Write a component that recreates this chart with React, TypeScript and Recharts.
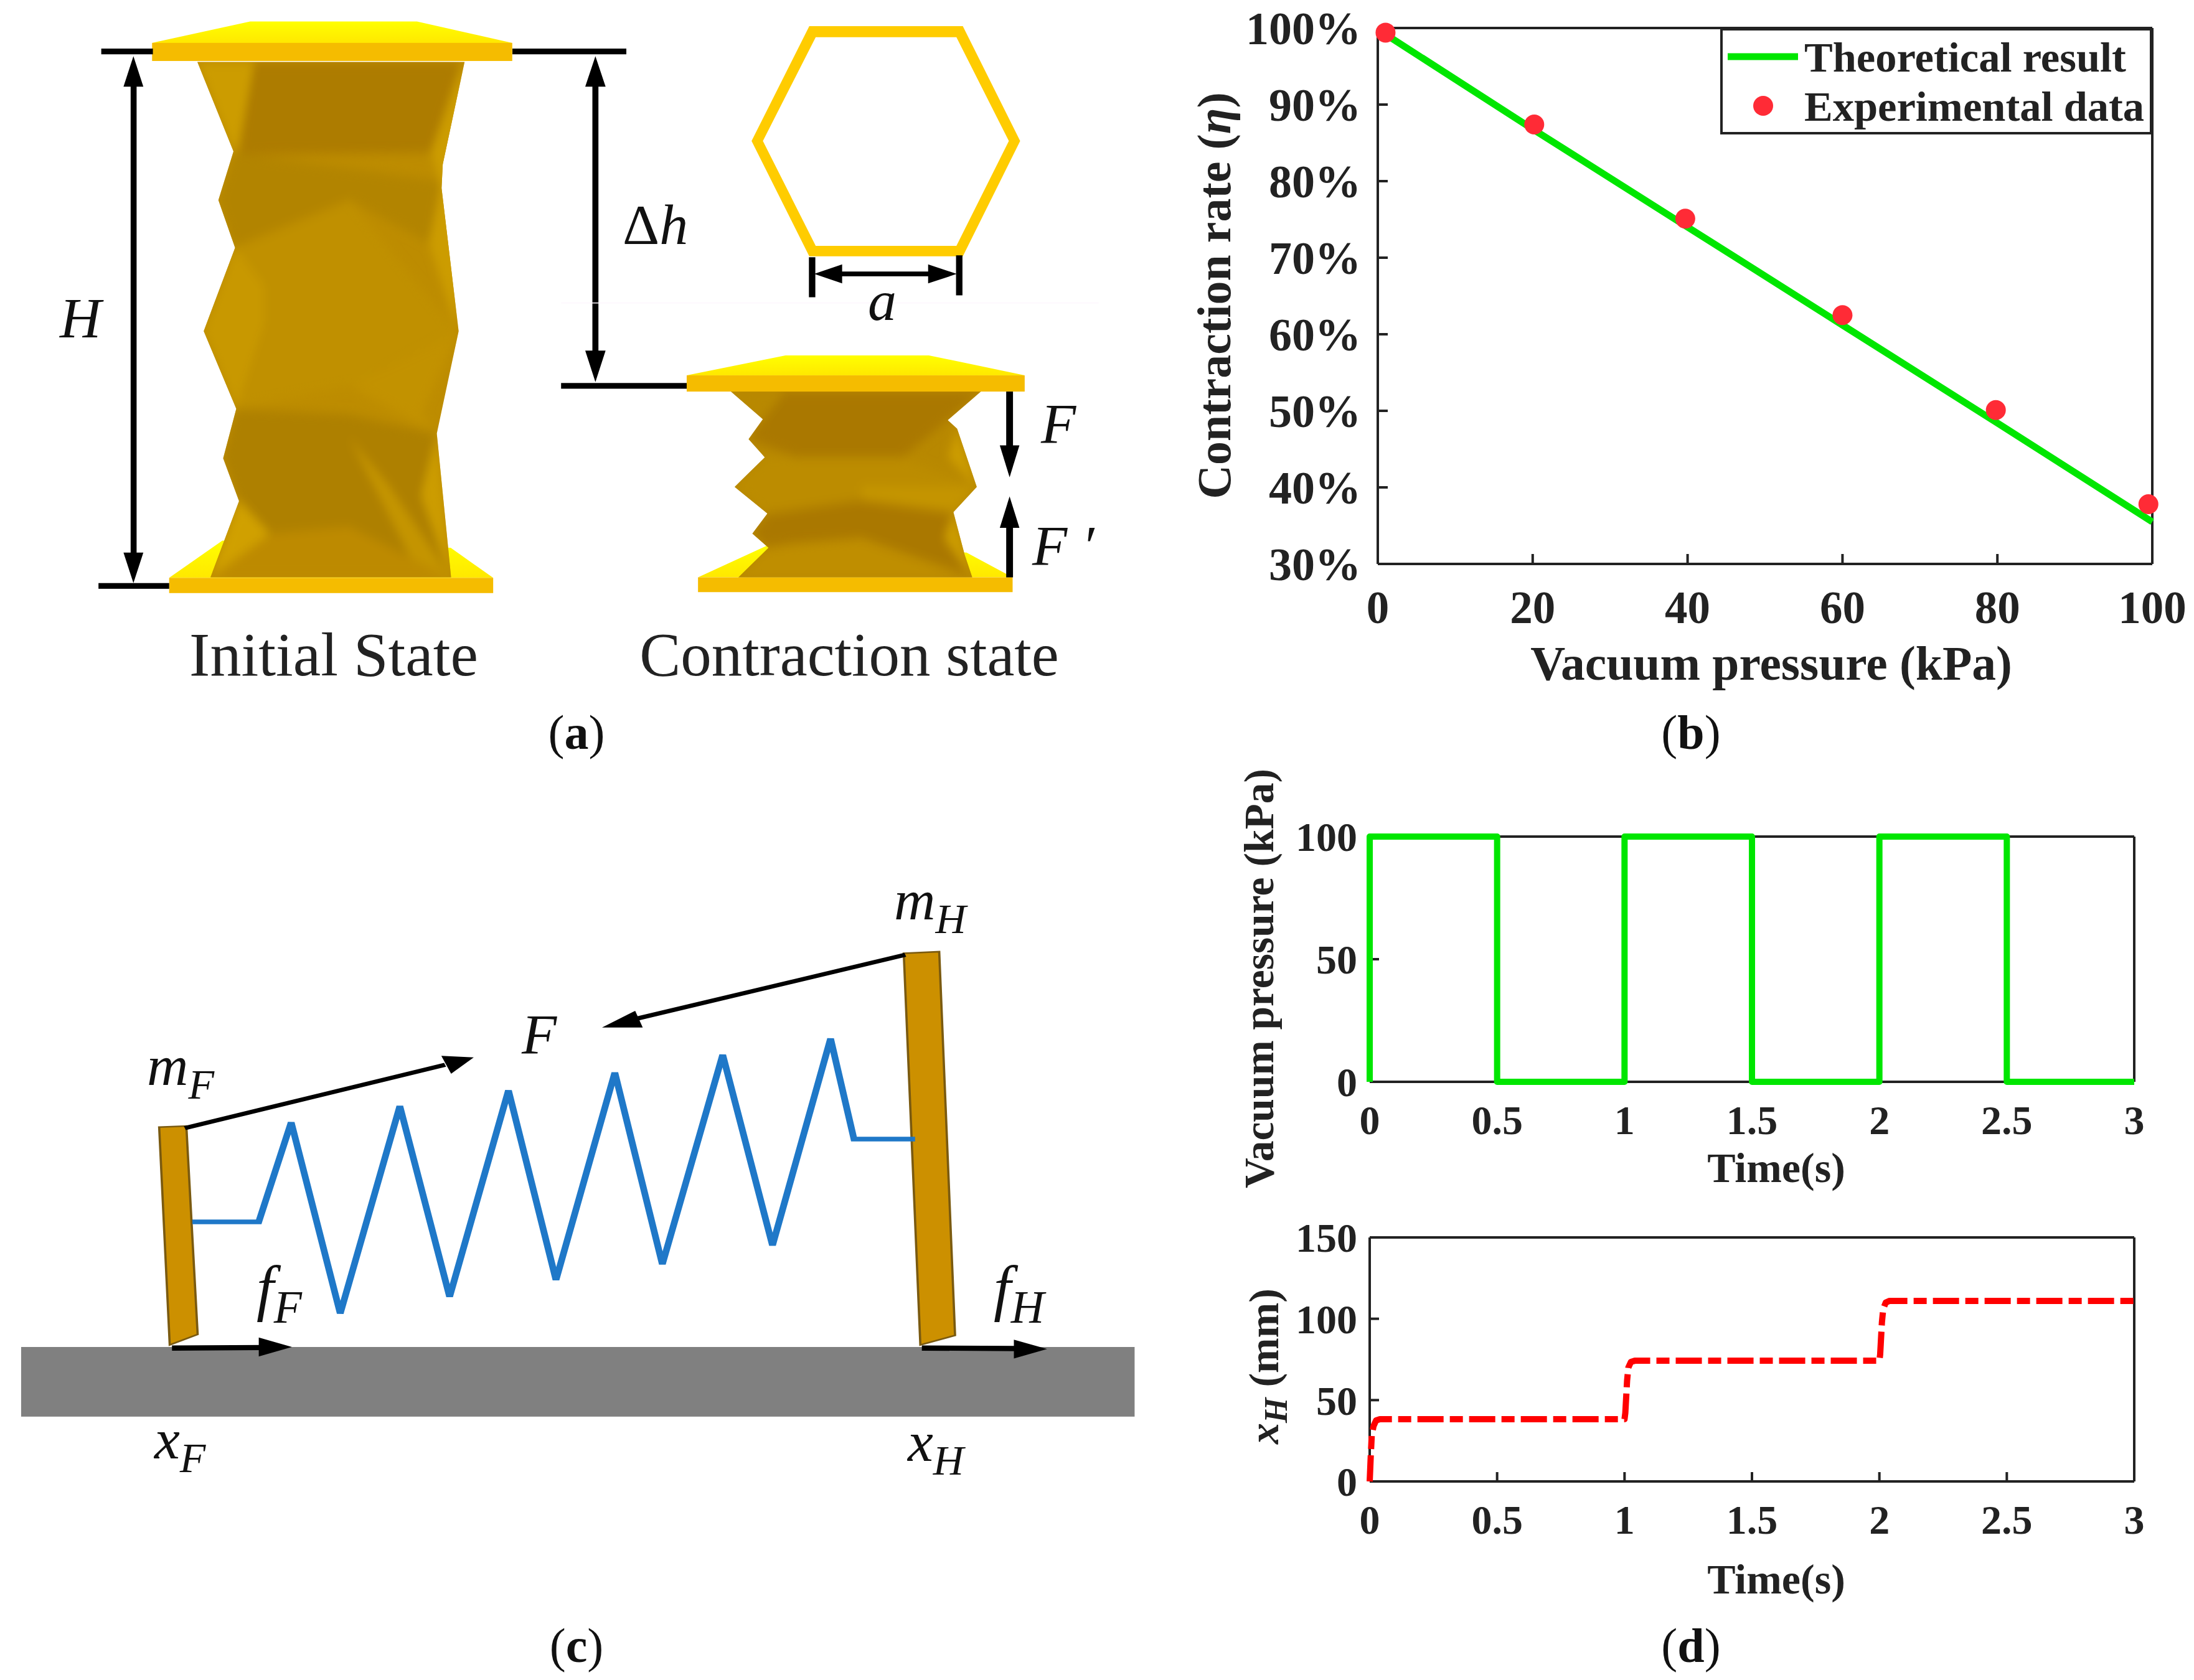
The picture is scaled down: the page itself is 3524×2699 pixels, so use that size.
import {
  ComposedChart,
  LineChart,
  Line,
  Scatter,
  XAxis,
  YAxis,
  Legend,
} from 'recharts'

// panel (b)
const theoryPressure = [0.5, 20, 40, 60, 80, 100]
const theoryRate = [99.5, 86.8, 74.0, 61.2, 48.4, 35.5]
const expPressure = [1, 20.2, 39.7, 60, 79.8, 99.5]
const expRate = [99.4, 87.4, 75.1, 62.5, 50.1, 37.8]
const pressureTicks = [0, 20, 40, 60, 80, 100]
const rateTicks = [30, 40, 50, 60, 70, 80, 90, 100]

// panel (d)
const pulseTime = [0, 0, 0.5, 0.5, 1, 1, 1.5, 1.5, 2, 2, 2.5, 2.5, 3]
const pulsePressure = [0, 100, 100, 0, 0, 100, 100, 0, 0, 100, 100, 0, 0]
const stepTime = [0, 0.004, 0.008, 0.015, 0.025, 0.04, 1, 1.003, 1.01, 1.015, 1.025, 1.04, 2, 2.003, 2.01, 2.015, 2.025, 2.04, 3]
const stepDisp = [0, 15, 28, 34, 37.5, 38.3, 38.3, 42, 62, 70, 73.5, 74.2, 74.2, 78, 98, 106, 110, 111, 111]
const timeTicks = [0, 0.5, 1, 1.5, 2, 2.5, 3]
const pulseTicks = [0, 50, 100]
const dispTicks = [0, 50, 100, 150]

const theoryData = theoryPressure.map((x, i) => ({ x, y: theoryRate[i] }))
const expData = expPressure.map((x, i) => ({ x, y: expRate[i] }))
const pulseData = pulseTime.map((x, i) => ({ x, y: pulsePressure[i] }))
const stepData = stepTime.map((x, i) => ({ x, y: stepDisp[i] }))

const SERIF = '"Liberation Serif", serif'
const INK = '#222222'
const GREEN = '#00e600'
const RED = '#ff0000'
const DOT = '#ff2b36'

const axisStyle = { stroke: INK, strokeWidth: 4 }

function tickFont(size: number) {
  return { fill: INK, fontSize: size, fontFamily: SERIF, fontWeight: 700 }
}

function titleProps(size: number) {
  return { fill: INK, fontSize: size, fontFamily: SERIF, fontWeight: 700 }
}

const RateTitle = () => (
  <text {...titleProps(76)} x={76} y={475} textAnchor="middle" transform="rotate(-90 76 475)">
    Contraction rate (<tspan fontStyle="italic">η</tspan>)
  </text>
)
const PressureTitle = () => (
  <text {...titleProps(77.5)} x={945} y={1092} textAnchor="middle">
    Vacuum pressure (kPa)
  </text>
)
const PulseTitle = () => (
  <text {...titleProps(67.5)} x={85} y={372} textAnchor="middle" transform="rotate(-90 85 372)">
    Vacuum pressure (kPa)
  </text>
)
const DispTitle = () => (
  <text {...titleProps(68)} x={93} y={245} textAnchor="middle" transform="rotate(-90 93 245)">
    <tspan fontStyle="italic">x</tspan>
    <tspan fontStyle="italic" fontSize={52} dy={14}>H</tspan>
    <tspan dy={-14}> (mm)</tspan>
  </text>
)
const TimeTitleTop = () => (
  <text {...titleProps(68)} x={893} y={699} textAnchor="middle">Time(s)</text>
)
const TimeTitleBottom = () => (
  <text {...titleProps(68)} x={893} y={610} textAnchor="middle">Time(s)</text>
)

function LegendBox({ payload }: any) {
  const items = payload || []
  return (
    <svg width={694} height={171} style={{ display: 'block' }}>
      <rect x={2} y={2} width={690} height={167} fill="#fff" stroke={INK} strokeWidth={4} />
      {items.map((item: any) => {
        const cy = item.type === 'line' ? 46 : 125
        return (
          <g key={item.value}>
            {item.type === 'line' ? (
              <line x1={12} x2={125} y1={cy} y2={cy} stroke={item.color} strokeWidth={11} />
            ) : (
              <circle cx={69} cy={cy} r={16} fill={item.color} />
            )}
            <text x={135} y={cy + 24} {...titleProps(68.5)}>{item.value}</text>
          </g>
        )
      })}
    </svg>
  )
}

function ChartB() {
  return (
    <div style={{ position: 'absolute', left: 1900, top: 0 }}>
      <ComposedChart width={1624} height={1150} margin={{ top: 44, right: 66, left: 0, bottom: 0 }}>
        <XAxis
          xAxisId="main" dataKey="x" type="number" domain={[0, 100]} ticks={pressureTicks} interval={0}
          height={244} tickSize={-16} tickMargin={59} axisLine={axisStyle} tickLine={axisStyle}
          tick={tickFont(73)} label={<PressureTitle />}
        />
        <XAxis
          xAxisId="top" orientation="top" dataKey="x" type="number" domain={[0, 100]} ticks={pressureTicks} interval={0}
          height={1} tickSize={-16} axisLine={axisStyle} tickLine={axisStyle} tick={false}
        />
        <YAxis
          yAxisId="main" dataKey="y" type="number" domain={[30, 100]} ticks={rateTicks} interval={0}
          width={313} tickSize={-16} tickMargin={43} axisLine={axisStyle} tickLine={axisStyle}
          tick={tickFont(74)} tickFormatter={(v: number) => `${v}%`} label={<RateTitle />}
        />
        <YAxis
          yAxisId="right" orientation="right" dataKey="y" type="number" domain={[30, 100]} ticks={rateTicks} interval={0}
          width={1} tickSize={-16} axisLine={axisStyle} tickLine={axisStyle} tick={false}
        />
        <Legend
          content={<LegendBox />} layout="horizontal" verticalAlign="middle" itemSorter={null}
          wrapperStyle={{ left: 863, top: 45, width: 694, height: 171 }}
        />
        <Line
          xAxisId="main" yAxisId="main" data={theoryData} dataKey="y" name="Theoretical result"
          stroke={GREEN} strokeWidth={11} dot={false} legendType="line" isAnimationActive={false} zIndex={600}
        />
        <Scatter
          xAxisId="main" yAxisId="main" data={expData} dataKey="y" name="Experimental data"
          fill={DOT} shape={(p: any) => <circle cx={p.cx} cy={p.cy} r={16} fill={DOT} />}
          legendType="circle" isAnimationActive={false} zIndex={700}
        />
      </ComposedChart>
    </div>
  )
}

function TimeChart({ top, height, marginTop, axisHeight, data, stroke, dash, yTicks, yMax, yLabel, xLabel }: any) {
  return (
    <div style={{ position: 'absolute', left: 1960, top }}>
      <LineChart width={1564} height={height} margin={{ top: marginTop, right: 95, left: 0, bottom: 0 }}>
        <XAxis
          xAxisId="main" dataKey="x" type="number" domain={[0, 3]} ticks={timeTicks} interval={0}
          height={axisHeight} tickSize={-15} tickMargin={52} axisLine={axisStyle} tickLine={axisStyle}
          tick={tickFont(66)} label={xLabel}
        />
        <XAxis
          xAxisId="top" orientation="top" dataKey="x" type="number" domain={[0, 3]} ticks={timeTicks} interval={0}
          height={1} tickSize={-15} axisLine={axisStyle} tickLine={axisStyle} tick={false}
        />
        <YAxis
          yAxisId="main" type="number" domain={[0, yMax]} ticks={yTicks} interval={0}
          width={240} tickSize={-15} tickMargin={35} axisLine={axisStyle} tickLine={axisStyle}
          tick={tickFont(66)} label={yLabel}
        />
        <YAxis
          yAxisId="right" orientation="right" type="number" domain={[0, yMax]} ticks={yTicks} interval={0}
          width={1} tickSize={-15} axisLine={axisStyle} tickLine={axisStyle} tick={false}
        />
        <Line
          xAxisId="main" yAxisId="main" data={data} dataKey="y" stroke={stroke} strokeWidth={10}
          strokeDasharray={dash} dot={false} isAnimationActive={false} strokeLinejoin="round" zIndex={600}
        />
      </LineChart>
    </div>
  )
}

type Facet = [string, string]

const initialFacets: Facet[] = [
  ['#cc9c00', '497,130 640,130 600,310 588,318'],
  ['#ad7c00', '640,130 1160,130 1085,320 600,325'],
  ['#b28400', '590,320 1110,380 1080,510 880,420 680,560 590,520 550,420'],
  ['#c09000', '590,520 880,420 1150,695 880,810 595,858 665,680'],
  ['#c89800', '513,695 592,520 665,600 665,680 595,858'],
  ['#cc9c00', '1170,130 1085,320 1112,395 1080,510 1150,690'],
  ['#c29200', '1155,695 1060,870 1100,910 880,810'],
  ['#ae8000', '595,858 880,870 1100,910 1060,1040 1135,1212 880,1110 680,1120 602,1050 562,962'],
  ['#c49400', '880,920 1040,1180 1135,1212 980,1020'],
  ['#cc9c00', '1100,910 1135,1212 1060,1040'],
  ['#bd8a00', '680,1120 880,1105 1130,1212 530,1212'],
  ['#d0a000', '602,1052 680,1120 530,1212'],
]

const contractFacets: Facet[] = [
  ['#b88800', '485,822 630,822 570,880'],
  ['#aa7800', '630,822 1148,822 1060,882 940,960 660,960 532,922 570,880'],
  ['#bc8c00', '575,960 660,960 940,960 1137,1022 830,1060 580,1078 495,1022'],
  ['#c49400', '830,1020 1137,1022 1075,1075 830,1060'],
  ['#aa7800', '582,1078 830,1050 1075,1075 1105,1165 1125,1212 830,1130 650,1140 585,1150 542,1120'],
  ['#bf8e00', '585,1150 830,1130 1125,1212 505,1212'],
  ['#cc9c00', '1085,900 1137,1022 1060,960'],
  ['#cc9c00', '1075,1075 1125,1212 1050,1130'],
]

const springPoints = '255,693 343,693 386,503 451,868 530,472 596,836 674,442 737,804 815,408 878,774 958,374 1024,738 1101,343 1132,535 1213,535'

const hexPath = 'M693 55 L1100 55 L1252 296 L1100 538 L693 538 L540 296 Z M710 78 L570 296 L710 516 L1083 516 L1222 296 L1083 78 Z'

function Body({ id, outline, facets, base }: { id: string; outline: string; facets: Facet[]; base: string }) {
  return (
    <>
      <clipPath id={id}><polygon points={outline} /></clipPath>
      <polygon points={outline} fill={base} />
      <g clipPath={`url(#${id})`}>
        <g filter="url(#soft)">
          {facets.map(([fill, points], i) => (
            <polygon key={i} points={points} fill={fill} />
          ))}
        </g>
      </g>
    </>
  )
}

function Plate({ top, front }: { top: string; front: [number, number, number, number] }) {
  return (
    <>
      <polygon points={top} fill="url(#plateTop)" />
      <rect x={front[0]} y={front[1]} width={front[2] - front[0]} height={front[3] - front[1]} fill="#f5bc00" />
    </>
  )
}

function Sym({ x, y, base, sub, subDy = 22, size = 92 }: { x: number; y: number; base: string; sub?: string; subDy?: number; size?: number }) {
  return (
    <text x={x} y={y} fontFamily={SERIF} fontStyle="italic" fontSize={size} fill="#111">
      {base}
      {sub && <tspan fontSize={size * 0.74} dy={subDy}>{sub}</tspan>}
    </text>
  )
}

function Caption({ x, y, letter }: { x: number; y: number; letter: string }) {
  return (
    <text x={x} y={y} textAnchor="middle" fontFamily={SERIF} fontSize={78} fill="#111">
      (<tspan fontWeight={700}>{letter}</tspan>)
    </text>
  )
}

function Diagrams() {
  return (
    <svg width={3524} height={2699} style={{ position: 'absolute', left: 0, top: 0 }}>
      <defs>
        <linearGradient id="plateTop" x1="0" y1="0" x2="0" y2="1">
          <stop offset="0" stopColor="#ffff00" />
          <stop offset="1" stopColor="#ffe800" />
        </linearGradient>
        <filter id="soft" x="-5%" y="-5%" width="110%" height="110%">
          <feGaussianBlur stdDeviation="11" />
        </filter>
      </defs>

      {/* panel a, initial state */}
      <g transform="scale(0.6378 0.7653)">
        <Plate top="426,1213 560,1135 1135,1150 1242,1213" front={[426, 1213, 1242, 1245]} />
        <Body
          id="bodyA" base="#bd8c00" facets={initialFacets}
          outline="497,130 588,318 550,420 592,520 513,695 595,858 562,962 602,1052 530,1212 1136,1212 1100,910 1155,695 1112,395 1115,345 1170,130"
        />
        <Plate top="383,90 630,45 1050,45 1290,90" front={[383, 90, 1290, 128]} />
        <rect x={255} y={102} width={130} height={12} fill="#000" />
        <rect x={248} y={1224} width={178} height={12} fill="#000" />
        <rect x={329} y={170} width={15} height={1000} fill="#000" />
        <polygon points="336,118 361,182 311,182" fill="#000" />
        <polygon points="336,1224 361,1160 311,1160" fill="#000" />
      </g>

      {/* panel a, contraction state and hexagon */}
      <g transform="translate(880 0) scale(0.6059 0.7653)">
        <rect x={-94} y={102} width={302} height={12} fill="#000" />
        <rect x={35} y={804} width={335} height={12} fill="#000" />
        <rect x={118} y={170} width={16} height={580} fill="#000" />
        <polygon points="126,118 153,182 99,182" fill="#000" />
        <polygon points="126,802 153,736 99,736" fill="#000" />
        <rect x={35} y={635} width={1425} height={2} fill="#fdf6fd" />
        <path d={hexPath} fill="#ffcc00" fillRule="evenodd" />
        <rect x={692} y={540} width={17} height={84} fill="#000" />
        <rect x={1082} y={536} width={17} height={84} fill="#000" />
        <rect x={770} y={570} width={240} height={10} fill="#000" />
        <polygon points="706,575 780,555 780,595" fill="#000" />
        <polygon points="1084,575 1008,555 1008,595" fill="#000" />
        <Plate top="398,1212 582,1145 1110,1160 1232,1212" front={[398, 1212, 1232, 1243]} />
        <Body
          id="bodyB" base="#b88800" facets={contractFacets}
          outline="485,822 570,880 532,922 575,960 495,1022 582,1078 542,1120 585,1150 505,1212 1125,1212 1105,1165 1075,1075 1137,1022 1085,900 1060,882 1148,822"
        />
        <Plate top="368,788 630,746 1010,746 1264,788" front={[368, 788, 1264, 822]} />
        <rect x={1215} y={822} width={18} height={120} fill="#000" />
        <polygon points="1224,1002 1198,935 1250,935" fill="#000" />
        <rect x={1215} y={1100} width={18} height={112} fill="#000" />
        <polygon points="1224,1042 1198,1108 1250,1108" fill="#000" />
      </g>

      <Sym x={96} y={542} base="H" />
      <text x={1000} y={392} fontFamily={SERIF} fontSize={92} fill="#111">
        Δ<tspan fontStyle="italic">h</tspan>
      </text>
      <Sym x={1394} y={514} base="a" />
      <Sym x={1672} y={712} base="F" />
      <Sym x={1658} y={908} base="F ′" />
      <text x={536} y={1085} textAnchor="middle" fontFamily={SERIF} fontSize={100} fill="#222">Initial State</text>
      <text x={1364} y={1085} textAnchor="middle" fontFamily={SERIF} fontSize={99} fill="#222">Contraction state</text>
      <Caption x={926} y={1203} letter="a" />
      <Caption x={2716} y={1203} letter="b" />
      <Caption x={926} y={2670} letter="c" />
      <Caption x={2716} y={2670} letter="d" />

      {/* panel c */}
      <g transform="translate(0 1380) scale(1.2117 0.8412)">
        <rect x={28} y={932} width={1476} height={133} fill="#808080" />
        <polygon points="211,512 247,510 262,908 225,928" fill="#cc9000" stroke="#7a5a10" strokeWidth={3} />
        <polygon points="1198,180 1245,177 1266,910 1220,928" fill="#cc9000" stroke="#7a5a10" strokeWidth={3} />
        <polyline points={springPoints} fill="none" stroke="#1f78c8" strokeWidth={9} />
        <line x1={245} y1={514} x2={590} y2={393} stroke="#000" strokeWidth={8} />
        <polygon points="628,379 585,376 598,410" fill="#000" />
        <line x1={1200} y1={183} x2={835} y2={308} stroke="#000" strokeWidth={8} />
        <polygon points="798,322 842,290 852,322" fill="#000" />
        <line x1={228} y1={934} x2={350} y2={933} stroke="#000" strokeWidth={10} />
        <polygon points="387,932 343,914 343,950" fill="#000" />
        <line x1={1222} y1={934} x2={1350} y2={935} stroke="#000" strokeWidth={10} />
        <polygon points="1388,936 1344,918 1344,954" fill="#000" />
      </g>
      <Sym x={236} y={1743} base="m" sub="F" />
      <Sym x={1436} y={1477} base="m" sub="H" />
      <Sym x={838} y={1693} base="F" />
      <Sym x={412} y={2103} base="f" sub="F" size={100} />
      <Sym x={1596} y={2103} base="f" sub="H" size={100} />
      <Sym x={248} y={2343} base="x" sub="F" />
      <Sym x={1458} y={2347} base="x" sub="H" />
    </svg>
  )
}

export default function App() {
  return (
    <div style={{ position: 'absolute', left: 0, top: 0, width: 3524, height: 2699, background: '#fff', overflow: 'hidden' }}>
      <Diagrams />
      <ChartB />
      <TimeChart
        top={1200} height={740} marginTop={143} axisHeight={202} data={pulseData} stroke={GREEN}
        yTicks={pulseTicks} yMax={100} yLabel={<PulseTitle />} xLabel={<TimeTitleTop />}
      />
      <TimeChart
        top={1950} height={670} marginTop={37} axisHeight={240} data={stepData} stroke={RED} dash="42 10 21 10"
        yTicks={dispTicks} yMax={150} yLabel={<DispTitle />} xLabel={<TimeTitleBottom />}
      />
    </div>
  )
}
